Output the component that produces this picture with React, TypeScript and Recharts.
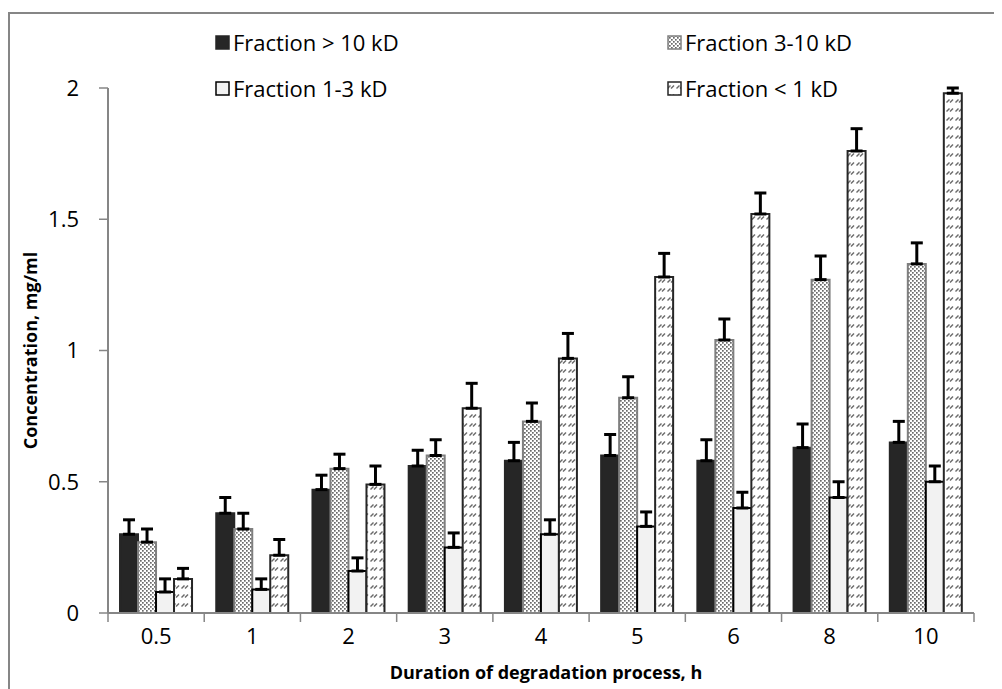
import { Bar, BarChart, ErrorBar, XAxis, YAxis } from "recharts";

const hours = ["0.5", "1", "2", "3", "4", "5", "6", "8", "10"];
const over10 = [0.3, 0.38, 0.47, 0.56, 0.58, 0.6, 0.58, 0.63, 0.65];
const over10Err = [0.055, 0.06, 0.055, 0.06, 0.07, 0.08, 0.08, 0.09, 0.08];
const mid3to10 = [0.27, 0.32, 0.55, 0.6, 0.73, 0.82, 1.04, 1.27, 1.33];
const mid3to10Err = [0.05, 0.06, 0.055, 0.06, 0.07, 0.08, 0.08, 0.09, 0.08];
const low1to3 = [0.08, 0.09, 0.16, 0.25, 0.3, 0.33, 0.4, 0.44, 0.5];
const low1to3Err = [0.05, 0.04, 0.05, 0.055, 0.055, 0.055, 0.06, 0.06, 0.06];
const under1 = [0.13, 0.22, 0.49, 0.78, 0.97, 1.28, 1.52, 1.76, 1.98];
const under1Err = [0.04, 0.06, 0.07, 0.095, 0.095, 0.09, 0.08, 0.085, 0.02];
const yTicks = [0, 0.5, 1, 1.5, 2];

const series = [
  { key: "a", name: "Fraction > 10 kD", fill: "#262626", stroke: "#262626" },
  { key: "b", name: "Fraction 3-10 kD", fill: "url(#stipple)", stroke: "#7f7f7f" },
  { key: "c", name: "Fraction 1-3 kD", fill: "#f2f2f2", stroke: "#000000" },
  { key: "d", name: "Fraction < 1 kD", fill: "url(#hatch)", stroke: "#262626" },
];

const data = hours.map((h, i) => ({
  hour: h,
  a: over10[i],
  aErr: [0, over10Err[i]],
  b: mid3to10[i],
  bErr: [0, mid3to10Err[i]],
  c: low1to3[i],
  cErr: [0, low1to3Err[i]],
  d: under1[i],
  dErr: [0, under1Err[i]],
}));

const font = "'Open Sans', Lato, sans-serif";

function XTick(props: any) {
  const { x, y, payload, index, visibleTicksCount } = props;
  const off = payload?.offset ?? 48;
  return (
    <g>
      <line x1={x - off} y1={y} x2={x - off} y2={y + 9} stroke="#868686" strokeWidth={1.5} />
      {index === visibleTicksCount - 1 && <line x1={x + off} y1={y} x2={x + off} y2={y + 9} stroke="#868686" strokeWidth={1.5} />}
      <text x={x} y={y + 22} textAnchor="middle" dominantBaseline="central" fontSize={22} fill="#000" fontFamily={font}>
        {payload.value}
      </text>
    </g>
  );
}

function YTitle(props: any) {
  const vb = props.viewBox;
  const cx = 20;
  const cy = vb.y + vb.height / 2;
  return (
    <text x={cx} y={cy} transform={`rotate(-90 ${cx} ${cy})`} textAnchor="middle" dominantBaseline="central" fontSize={18} fontWeight="bold" fill="#000" fontFamily={font}>
      Concentration, mg/ml
    </text>
  );
}

function Swatch({ fill, stroke }: { fill: string; stroke: string }) {
  return (
    <svg width={15} height={15} style={{ display: "block" }}>
      <rect x={1} y={1} width={13} height={13} fill={fill} stroke={stroke} strokeWidth={1.5} />
    </svg>
  );
}

export default function App() {
  const legendPos = [
    { left: 205, top: 28 },
    { left: 657, top: 28 },
    { left: 205, top: 74 },
    { left: 657, top: 74 },
  ];
  return (
    <div style={{ position: "relative", marginTop: 4, width: 1000, height: 690, borderTop: "2px solid #868686", borderLeft: "2px solid #868686", background: "#fff" }}>
      <svg width={0} height={0} style={{ position: "absolute" }}>
        <defs>
          <pattern id="stipple" width={4} height={4} patternUnits="userSpaceOnUse">
            <rect width={4} height={4} fill="#ffffff" />
            <rect x={0} y={0} width={1.7} height={1.7} fill="#6a6a6a" />
            <rect x={2} y={2} width={1.7} height={1.7} fill="#6a6a6a" />
          </pattern>
          <pattern id="hatch" width={9} height={9} patternUnits="userSpaceOnUse">
            <rect width={9} height={9} fill="#ffffff" />
            <line x1={0.5} y1={7.5} x2={3.5} y2={4.5} stroke="#6a6a6a" strokeWidth={1.4} />
            <line x1={4} y1={7.5} x2={7} y2={4.5} stroke="#6a6a6a" strokeWidth={1.4} />
          </pattern>
        </defs>
      </svg>
      {series.map((s, i) => (
        <div
          key={s.key}
          style={{ position: "absolute", left: legendPos[i].left, top: legendPos[i].top, transform: "translateY(-50%)", display: "flex", alignItems: "center", gap: 3, fontFamily: font, fontSize: 22, color: "#000", whiteSpace: "nowrap" }}
        >
          <Swatch fill={s.fill} stroke={s.stroke} />
          <span>{s.name}</span>
        </div>
      ))}
      <BarChart width={990} height={675} data={data} margin={{ top: 74, right: 26, left: 38, bottom: 0 }} barCategoryGap="12.5%" barGap={0}>
        <XAxis
          dataKey="hour"
          height={76}
          tickSize={0}
          tickMargin={0}
          tickLine={false}
          tick={<XTick />}
          axisLine={{ stroke: "#868686", strokeWidth: 2 }}
          interval={0}
          label={{ value: "Duration of degradation process, h", position: "insideBottom", offset: 10, dx: 5, fontSize: 18, fontWeight: "bold", fill: "#000", fontFamily: font }}
        />
        <YAxis
          width={60}
          domain={[0, 2]}
          ticks={yTicks}
          allowDataOverflow
          tickSize={9}
          tickMargin={20}
          tickLine={{ stroke: "#868686", strokeWidth: 1.5 }}
          axisLine={{ stroke: "#868686", strokeWidth: 2 }}
          tick={{ fontSize: 22, fill: "#000", fontFamily: font }}
          label={<YTitle />}
        />
        {series.map((s) => (
          <Bar key={s.key} dataKey={s.key} name={s.name} fill={s.fill} stroke={s.stroke} strokeWidth={2} isAnimationActive={false}>
            <ErrorBar dataKey={`${s.key}Err`} width={6} strokeWidth={3} stroke="#000" direction="y" />
          </Bar>
        ))}
      </BarChart>
    </div>
  );
}
